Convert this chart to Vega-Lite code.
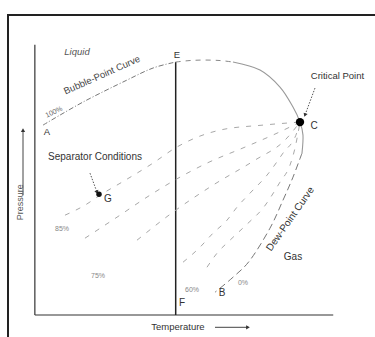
{
  "$schema": "https://vega.github.io/schema/vega-lite/v6.json",
  "width": 370,
  "height": 327,
  "autosize": {"type": "none"},
  "padding": {"left": 8, "top": 15, "right": 0, "bottom": 0},
  "background": "white",
  "config": {"view": {"stroke": "#222", "strokeWidth": 2}, "font": "Liberation Sans"},
  "datasets": {
    "lines": [
      {"line": "bub", "kind": "bubble", "o": 0, "T": 2.73, "P": 70.26},
      {"line": "bub", "kind": "bubble", "o": 1, "T": 16.13, "P": 78.78},
      {"line": "bub", "kind": "bubble", "o": 2, "T": 30.88, "P": 86.93},
      {"line": "bub", "kind": "bubble", "o": 3, "T": 39.59, "P": 91.37},
      {"line": "bub", "kind": "bubble", "o": 4, "T": 47.2, "P": 93.59},
      {"line": "top", "kind": "top", "o": 0, "T": 47.2, "P": 93.59},
      {"line": "top", "kind": "top", "o": 1, "T": 51.99, "P": 94.15},
      {"line": "top", "kind": "top", "o": 2, "T": 57.02, "P": 94.33},
      {"line": "top", "kind": "top", "o": 3, "T": 62.05, "P": 94.15},
      {"line": "top", "kind": "top", "o": 4, "T": 66.4, "P": 93.59},
      {"line": "arc", "kind": "arc", "o": 0, "T": 66.4, "P": 93.59},
      {"line": "arc", "kind": "arc", "o": 1, "T": 75.45, "P": 90.63},
      {"line": "arc", "kind": "arc", "o": 2, "T": 82.15, "P": 84.33},
      {"line": "arc", "kind": "arc", "o": 3, "T": 86.51, "P": 76.93},
      {"line": "arc", "kind": "arc", "o": 4, "T": 88.86, "P": 71.37},
      {"line": "arc", "kind": "arc", "o": 5, "T": 89.86, "P": 66.56},
      {"line": "arc", "kind": "arc", "o": 6, "T": 89.53, "P": 59.89},
      {"line": "dew", "kind": "dew", "o": 0, "T": 89.53, "P": 59.89},
      {"line": "dew", "kind": "dew", "o": 1, "T": 86.51, "P": 51.0},
      {"line": "dew", "kind": "dew", "o": 2, "T": 83.16, "P": 42.48},
      {"line": "dew", "kind": "dew", "o": 3, "T": 78.8, "P": 32.11},
      {"line": "dew", "kind": "dew", "o": 4, "T": 72.1, "P": 20.26},
      {"line": "dew", "kind": "dew", "o": 5, "T": 66.4, "P": 13.96},
      {"line": "dew", "kind": "dew", "o": 6, "T": 60.37, "P": 8.41},
      {"line": "q1", "kind": "quality", "o": 0, "T": 10.1, "P": 36.93},
      {"line": "q1", "kind": "quality", "o": 1, "T": 16.8, "P": 40.63},
      {"line": "q1", "kind": "quality", "o": 2, "T": 21.83, "P": 44.33},
      {"line": "q1", "kind": "quality", "o": 3, "T": 29.2, "P": 49.15},
      {"line": "q1", "kind": "quality", "o": 4, "T": 39.59, "P": 56.19},
      {"line": "q1", "kind": "quality", "o": 5, "T": 46.97, "P": 61.74},
      {"line": "q1", "kind": "quality", "o": 6, "T": 55.34, "P": 66.19},
      {"line": "q1", "kind": "quality", "o": 7, "T": 62.05, "P": 68.41},
      {"line": "q1", "kind": "quality", "o": 8, "T": 76.46, "P": 70.26},
      {"line": "q1", "kind": "quality", "o": 9, "T": 88.86, "P": 71.37},
      {"line": "q2", "kind": "quality", "o": 0, "T": 16.8, "P": 28.41},
      {"line": "q2", "kind": "quality", "o": 1, "T": 27.53, "P": 36.19},
      {"line": "q2", "kind": "quality", "o": 2, "T": 38.59, "P": 44.33},
      {"line": "q2", "kind": "quality", "o": 3, "T": 46.29, "P": 49.52},
      {"line": "q2", "kind": "quality", "o": 4, "T": 57.69, "P": 56.19},
      {"line": "q2", "kind": "quality", "o": 5, "T": 70.42, "P": 62.11},
      {"line": "q2", "kind": "quality", "o": 6, "T": 80.48, "P": 66.93},
      {"line": "q2", "kind": "quality", "o": 7, "T": 88.86, "P": 71.37},
      {"line": "q3", "kind": "quality", "o": 0, "T": 34.23, "P": 27.67},
      {"line": "q3", "kind": "quality", "o": 1, "T": 46.29, "P": 38.04},
      {"line": "q3", "kind": "quality", "o": 2, "T": 59.7, "P": 48.04},
      {"line": "q3", "kind": "quality", "o": 3, "T": 73.77, "P": 57.3},
      {"line": "q3", "kind": "quality", "o": 4, "T": 83.83, "P": 64.7},
      {"line": "q3", "kind": "quality", "o": 5, "T": 88.86, "P": 71.37},
      {"line": "q4", "kind": "quality", "o": 0, "T": 49.65, "P": 19.52},
      {"line": "q4", "kind": "quality", "o": 1, "T": 55.34, "P": 25.07},
      {"line": "q4", "kind": "quality", "o": 2, "T": 59.7, "P": 30.26},
      {"line": "q4", "kind": "quality", "o": 3, "T": 64.39, "P": 35.07},
      {"line": "q4", "kind": "quality", "o": 4, "T": 67.74, "P": 39.89},
      {"line": "q4", "kind": "quality", "o": 5, "T": 72.1, "P": 45.07},
      {"line": "q4", "kind": "quality", "o": 6, "T": 77.8, "P": 51.74},
      {"line": "q4", "kind": "quality", "o": 7, "T": 83.16, "P": 59.89},
      {"line": "q4", "kind": "quality", "o": 8, "T": 87.85, "P": 67.67},
      {"line": "q4", "kind": "quality", "o": 9, "T": 88.86, "P": 71.37},
      {"line": "q5", "kind": "quality", "o": 0, "T": 57.69, "P": 17.67},
      {"line": "q5", "kind": "quality", "o": 1, "T": 61.04, "P": 22.85},
      {"line": "q5", "kind": "quality", "o": 2, "T": 65.4, "P": 27.67},
      {"line": "q5", "kind": "quality", "o": 3, "T": 71.09, "P": 33.59},
      {"line": "q5", "kind": "quality", "o": 4, "T": 76.46, "P": 39.52},
      {"line": "q5", "kind": "quality", "o": 5, "T": 82.15, "P": 49.15},
      {"line": "q5", "kind": "quality", "o": 6, "T": 85.5, "P": 55.44},
      {"line": "q5", "kind": "quality", "o": 7, "T": 87.18, "P": 61.74},
      {"line": "q5", "kind": "quality", "o": 8, "T": 88.86, "P": 71.37}
    ],
    "texts": [
      {"label": "Separator Conditions", "g": "dark10", "T": 20.16, "P": 58.41},
      {"label": "G", "g": "dark10", "T": 24.51, "P": 42.85},
      {"label": "B", "g": "dark10", "T": 62.72, "P": 8.04},
      {"label": "F", "g": "dark10", "T": 49.31, "P": 4.33},
      {"label": "Gas", "g": "dark10", "T": 86.51, "P": 21.37},
      {"label": "C", "g": "dark10", "T": 93.55, "P": 69.89},
      {"label": "A", "g": "dark9", "T": 4.07, "P": 67.67},
      {"label": "E", "g": "dark9", "T": 47.63, "P": 96.19},
      {"label": "Critical Point", "g": "dark9", "T": 101.42, "P": 88.41},
      {"label": "Temperature", "g": "dark9", "T": 47.97, "P": -4.56},
      {"label": "85%", "g": "pct", "T": 9.1, "P": 31.74},
      {"label": "75%", "g": "pct", "T": 21.16, "P": 14.33},
      {"label": "60%", "g": "pct", "T": 52.66, "P": 9.15},
      {"label": "0%", "g": "pct", "T": 69.75, "P": 11.74},
      {"label": "Liquid", "g": "italic", "T": 14.12, "P": 97.3},
      {"label": "Bubble-Point Curve", "g": "bubtext", "T": 22.5, "P": 88.78},
      {"label": "100%", "g": "p100", "T": 6.42, "P": 75.07},
      {"label": "Dew-Point Curve", "g": "dewtext", "T": 85.6, "P": 35.5},
      {"label": "Pressure", "g": "ptext", "T": -4.98, "P": 41.74}
    ]
  },
  "encoding": {
    "x": {"field": "T", "type": "quantitative", "scale": {"domain": [-9, 115], "nice": false, "zero": false}, "axis": null},
    "y": {"field": "P", "type": "quantitative", "scale": {"domain": [-10, 111], "nice": false, "zero": false}, "axis": null}
  },
  "layer": [
    {
      "data": {"values": [{"T": 0, "P": 0, "T2": 0, "P2": 100}, {"T": 0, "P": 0, "T2": 100, "P2": 0}]},
      "mark": {"type": "rule", "color": "#333", "strokeWidth": 1.2},
      "encoding": {"x2": {"field": "T2"}, "y2": {"field": "P2"}}
    },
    {
      "data": {"values": [{"T": 47.2, "P": 0, "P2": 93.59}]},
      "mark": {"type": "rule", "color": "#222", "strokeWidth": 1.5},
      "encoding": {"y2": {"field": "P2"}}
    },
    {
      "data": {"name": "lines"},
      "transform": [{"filter": "datum.kind == 'quality'"}],
      "mark": {"type": "line", "color": "#a8a8a8", "strokeWidth": 1, "strokeDash": [5, 7], "interpolate": "monotone"},
      "encoding": {"detail": {"field": "line"}, "order": {"field": "o", "type": "quantitative"}}
    },
    {
      "data": {"name": "lines"},
      "transform": [{"filter": "datum.kind == 'bubble'"}],
      "mark": {"type": "line", "color": "#777", "strokeWidth": 1, "strokeDash": [5, 2, 1, 2], "interpolate": "cardinal"},
      "encoding": {"order": {"field": "o", "type": "quantitative"}}
    },
    {
      "data": {"name": "lines"},
      "transform": [{"filter": "datum.kind == 'top'"}],
      "mark": {"type": "line", "color": "#888", "strokeWidth": 1, "strokeDash": [5, 5], "interpolate": "cardinal"},
      "encoding": {"order": {"field": "o", "type": "quantitative"}}
    },
    {
      "data": {"name": "lines"},
      "transform": [{"filter": "datum.kind == 'arc'"}],
      "mark": {"type": "line", "color": "#999", "strokeWidth": 1.1, "interpolate": "cardinal"},
      "encoding": {"order": {"field": "o", "type": "quantitative"}}
    },
    {
      "data": {"name": "lines"},
      "transform": [{"filter": "datum.kind == 'dew'"}],
      "mark": {"type": "line", "color": "#777", "strokeWidth": 1, "strokeDash": [7, 4], "interpolate": "cardinal"},
      "encoding": {"order": {"field": "o", "type": "quantitative"}}
    },
    {
      "data": {"values": [{"T": -3.97, "P": 44.33, "T2": -3.97, "P2": 68.41}, {"T": 60.37, "P": -4.56, "T2": 71.43, "P2": -4.56}]},
      "mark": {"type": "rule", "color": "#444", "strokeWidth": 1},
      "encoding": {"x2": {"field": "T2"}, "y2": {"field": "P2"}}
    },
    {
      "data": {"values": [{"T": 93.88, "P": 83.96, "T2": 90.53, "P2": 73.96}, {"T": 18.48, "P": 52.48, "T2": 20.83, "P2": 45.44}]},
      "mark": {"type": "rule", "color": "#555", "strokeWidth": 1, "strokeDash": [1.5, 1.5]},
      "encoding": {"x2": {"field": "T2"}, "y2": {"field": "P2"}}
    },
    {
      "data": {"values": [{"T": -3.97, "P": 68.41}]},
      "mark": {"type": "point", "shape": "triangle-up", "filled": true, "color": "#333", "size": 18, "opacity": 1}
    },
    {
      "data": {"values": [{"T": 71.43, "P": -4.56}]},
      "mark": {"type": "point", "shape": "triangle-right", "filled": true, "color": "#333", "size": 18, "opacity": 1}
    },
    {
      "data": {"values": [{"T": 90.53, "P": 73.96}]},
      "mark": {"type": "point", "shape": "triangle-up", "angle": 200, "filled": true, "color": "#333", "size": 18, "opacity": 1}
    },
    {
      "data": {"values": [{"T": 20.83, "P": 45.44}]},
      "mark": {"type": "point", "shape": "triangle-up", "angle": 160, "filled": true, "color": "#333", "size": 18, "opacity": 1}
    },
    {
      "data": {"values": [{"name": "C", "T": 88.86, "P": 71.37}]},
      "mark": {"type": "circle", "color": "#000", "size": 70, "opacity": 1}
    },
    {
      "data": {"values": [{"name": "G", "T": 21.5, "P": 44.7}]},
      "mark": {"type": "circle", "color": "#111", "size": 30, "opacity": 1}
    },
    {
      "data": {"name": "texts"},
      "transform": [{"filter": "datum.g == 'dark10'"}],
      "mark": {"type": "text", "fontSize": 10, "color": "#333"},
      "encoding": {"text": {"field": "label"}}
    },
    {
      "data": {"name": "texts"},
      "transform": [{"filter": "datum.g == 'dark9'"}],
      "mark": {"type": "text", "fontSize": 9.5, "color": "#333"},
      "encoding": {"text": {"field": "label"}}
    },
    {
      "data": {"name": "texts"},
      "transform": [{"filter": "datum.g == 'pct'"}],
      "mark": {"type": "text", "fontSize": 7, "color": "#888"},
      "encoding": {"text": {"field": "label"}}
    },
    {
      "data": {"name": "texts"},
      "transform": [{"filter": "datum.g == 'italic'"}],
      "mark": {"type": "text", "fontSize": 9.5, "fontStyle": "italic", "color": "#555"},
      "encoding": {"text": {"field": "label"}}
    },
    {
      "data": {"name": "texts"},
      "transform": [{"filter": "datum.g == 'bubtext'"}],
      "mark": {"type": "text", "fontSize": 9.5, "angle": 336, "color": "#444"},
      "encoding": {"text": {"field": "label"}}
    },
    {
      "data": {"name": "texts"},
      "transform": [{"filter": "datum.g == 'p100'"}],
      "mark": {"type": "text", "fontSize": 7, "angle": 335, "color": "#666"},
      "encoding": {"text": {"field": "label"}}
    },
    {
      "data": {"name": "texts"},
      "transform": [{"filter": "datum.g == 'dewtext'"}],
      "mark": {"type": "text", "fontSize": 10, "angle": 305, "color": "#333"},
      "encoding": {"text": {"field": "label"}}
    },
    {
      "data": {"name": "texts"},
      "transform": [{"filter": "datum.g == 'ptext'"}],
      "mark": {"type": "text", "fontSize": 9, "angle": 270, "color": "#555"},
      "encoding": {"text": {"field": "label"}}
    }
  ]
}
